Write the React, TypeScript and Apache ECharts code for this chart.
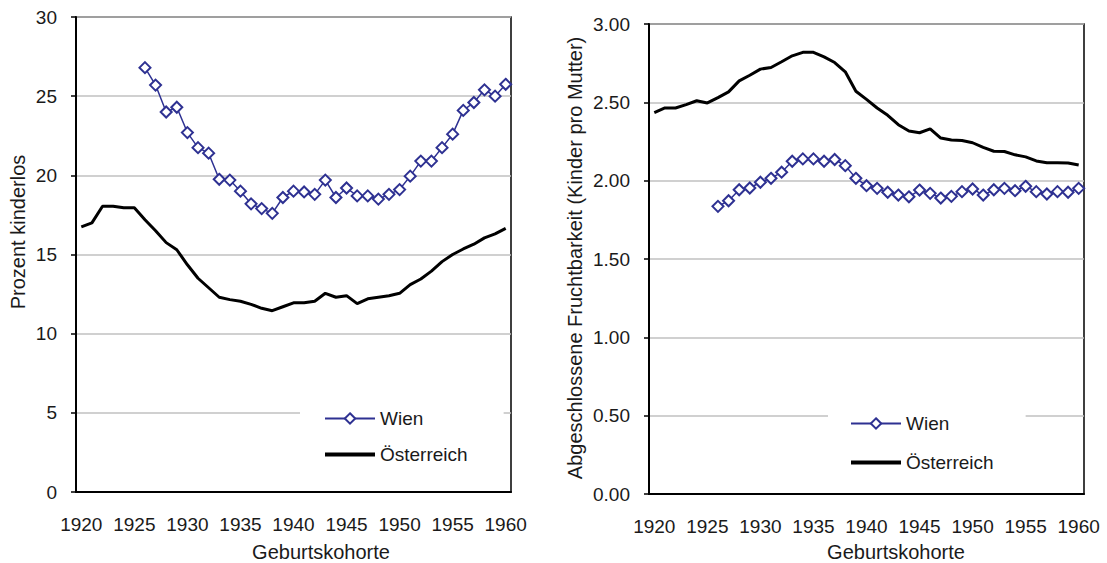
import React, { useEffect, useRef } from "react";
import * as echarts from "echarts";

const years = [
  "1920", "1921", "1922", "1923", "1924", "1925", "1926", "1927", "1928", "1929",
  "1930", "1931", "1932", "1933", "1934", "1935", "1936", "1937", "1938", "1939",
  "1940", "1941", "1942", "1943", "1944", "1945", "1946", "1947", "1948", "1949",
  "1950", "1951", "1952", "1953", "1954", "1955", "1956", "1957", "1958", "1959",
  "1960",
];

// Prozent kinderlos
const wienKinderlos = [
  null, null, null, null, null, null,
  26.8, 25.7, 24.0, 24.3,
  22.7, 21.75, 21.4, 19.75, 19.7, 19.0, 18.2, 17.9, 17.6, 18.6,
  19.0, 18.95, 18.8, 19.7, 18.6, 19.2, 18.7, 18.7, 18.5, 18.8,
  19.1, 19.95, 20.9, 20.9, 21.75, 22.6, 24.1, 24.6, 25.4, 25.0, 25.75,
];
const oesterreichKinderlos = [
  16.75, 17.0, 18.05, 18.05, 17.95, 17.95, 17.2, 16.5, 15.75, 15.3,
  14.35, 13.5, 12.9, 12.3, 12.15, 12.05, 11.85, 11.6, 11.45, 11.7,
  11.95, 11.95, 12.05, 12.55, 12.3, 12.4, 11.9, 12.2, 12.3, 12.4,
  12.55, 13.1, 13.45, 13.95, 14.55, 15.0, 15.35, 15.65, 16.05, 16.3, 16.65,
];

// Abgeschlossene Fruchtbarkeit
const wienFrucht = [
  null, null, null, null, null, null,
  1.836, 1.872, 1.942, 1.953,
  1.99, 2.015, 2.054, 2.124, 2.139, 2.139, 2.124, 2.135, 2.096, 2.015,
  1.968, 1.951, 1.926, 1.908, 1.897, 1.94, 1.919, 1.889, 1.9, 1.93,
  1.947, 1.908, 1.942, 1.951, 1.936, 1.964, 1.93, 1.915, 1.93, 1.926, 1.951,
];
const oesterreichFrucht = [
  2.434, 2.464, 2.464, 2.485, 2.51, 2.496, 2.53, 2.567, 2.637, 2.673,
  2.712, 2.722, 2.759, 2.797, 2.819, 2.819, 2.79, 2.754, 2.695, 2.571,
  2.519, 2.464, 2.417, 2.357, 2.317, 2.306, 2.331, 2.272, 2.259, 2.256,
  2.242, 2.212, 2.188, 2.186, 2.165, 2.152, 2.126, 2.115, 2.115, 2.113, 2.1,
];

const seriesNames = ["Wien", "Österreich"];
const leftYTitle = "Prozent kinderlos";
const rightYTitle = "Abgeschlossene Fruchtbarkeit (Kinder pro Mutter)";
const xTitle = "Geburtskohorte";

const FONT = "'Liberation Sans', Arial, sans-serif";
const TEXT = "#1a1a1a";
const NAVY = "#2e3192";
const FS = 19;
const TFS = 20;

function xAxisCfg(gridIndex: number) {
  return {
    type: "category",
    gridIndex,
    data: years,
    boundaryGap: true,
    axisLine: { lineStyle: { color: "#000", width: 2 } },
    axisTick: { interval: 0, length: 5, lineStyle: { color: "#000", width: 1.5 } },
    axisLabel: { interval: 4, margin: 23, color: TEXT, fontFamily: FONT, fontSize: FS },
    splitLine: { show: false },
  };
}

function yAxisCfg(gridIndex: number, max: number, interval: number, digits: number) {
  return {
    type: "value",
    gridIndex,
    min: 0,
    max,
    interval,
    axisLine: { show: true, lineStyle: { color: "#000", width: 2 } },
    axisTick: { show: true, length: 5, lineStyle: { color: "#000", width: 1.5 } },
    axisLabel: {
      margin: 19,
      color: TEXT,
      fontFamily: FONT,
      fontSize: FS,
      formatter: (v: number) => v.toFixed(digits),
    },
    splitLine: { show: true, lineStyle: { color: "#c0c0c0", width: 1.5 } },
  };
}

function wienSeries(data: (number | null)[], idx: number) {
  return {
    name: seriesNames[0],
    type: "line",
    xAxisIndex: idx,
    yAxisIndex: idx,
    data,
    symbol: "emptyDiamond",
    symbolSize: 11,
    showAllSymbol: true,
    connectNulls: false,
    lineStyle: { color: NAVY, width: 1.5 },
    itemStyle: { color: NAVY, borderColor: NAVY, borderWidth: 1.6 },
    z: 3,
  };
}

function oeSeries(data: number[], idx: number) {
  return {
    name: seriesNames[1],
    type: "line",
    xAxisIndex: idx,
    yAxisIndex: idx,
    data,
    showSymbol: false,
    symbol: "none",
    lineStyle: { color: "#000", width: 3 },
    itemStyle: { color: "#000" },
    z: 2,
  };
}

function legendCfg(left: number, top: number, padding: number[], gap: number) {
  return {
    orient: "vertical",
    left,
    top,
    data: [
      { name: seriesNames[0] },
      { name: seriesNames[1], itemStyle: { opacity: 0 }, lineStyle: { width: 4 } },
    ],
    itemWidth: 50,
    itemHeight: 13,
    itemGap: gap,
    padding,
    backgroundColor: "#ffffff",
    textStyle: { color: TEXT, fontFamily: FONT, fontSize: FS },
    selectedMode: false,
  };
}

export default function App() {
  const ref = useRef<HTMLDivElement>(null);

  useEffect(() => {
    if (!ref.current) return;
    const chart = echarts.init(ref.current, null, { renderer: "svg" });
    chart.setOption({
      animation: false,
      backgroundColor: "#ffffff",
      grid: [
        { left: 76, top: 17, width: 435, height: 475, show: true, borderColor: "#000", borderWidth: 1.5, outerBoundsMode: "none" },
        { left: 649, top: 24, width: 435, height: 470, show: true, borderColor: "#000", borderWidth: 1.5, outerBoundsMode: "none" },
      ],
      xAxis: [xAxisCfg(0), xAxisCfg(1)],
      yAxis: [yAxisCfg(0, 30, 5, 0), yAxisCfg(1, 3, 0.5, 2)],
      legend: [
        legendCfg(300, 397, [12, 36, 12, 23], 17),
        legendCfg(828, 401, [13, 32, 13, 21], 20),
      ],
      series: [
        oeSeries(oesterreichKinderlos, 0),
        wienSeries(wienKinderlos, 0),
        oeSeries(oesterreichFrucht, 1),
        wienSeries(wienFrucht, 1),
      ],
      graphic: [
        {
          type: "text",
          x: 18,
          y: 232,
          rotation: Math.PI / 2,
          style: { text: leftYTitle, fill: TEXT, font: `${TFS}px ${FONT}`, textAlign: "center", textVerticalAlign: "middle" },
        },
        {
          type: "text",
          x: 575,
          y: 258,
          rotation: Math.PI / 2,
          style: { text: rightYTitle, fill: TEXT, font: `${TFS}px ${FONT}`, textAlign: "center", textVerticalAlign: "middle" },
        },
        {
          type: "text",
          x: 321,
          y: 552,
          style: { text: xTitle, fill: TEXT, font: `${TFS}px ${FONT}`, textAlign: "center", textVerticalAlign: "middle" },
        },
        {
          type: "text",
          x: 896,
          y: 552,
          style: { text: xTitle, fill: TEXT, font: `${TFS}px ${FONT}`, textAlign: "center", textVerticalAlign: "middle" },
        },
      ],
    });
    return () => chart.dispose();
  }, []);

  return (
    <div
      ref={ref}
      style={{ position: "fixed", left: 0, top: 0, width: 1107, height: 563, background: "#fff" }}
    />
  );
}
